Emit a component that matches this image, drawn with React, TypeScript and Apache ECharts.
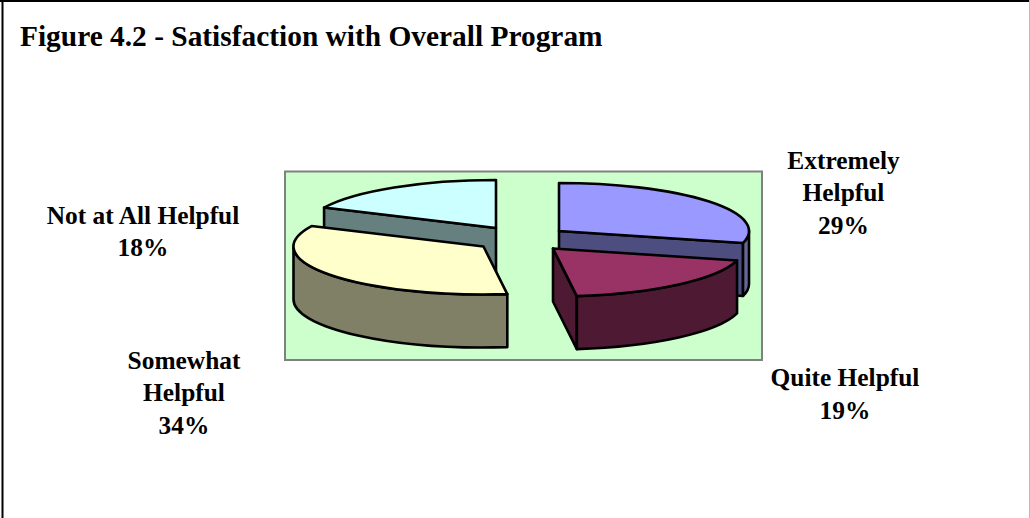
import React, { useEffect, useRef } from "react";
import * as echarts from "echarts";

const categories = ["Extremely Helpful", "Quite Helpful", "Somewhat Helpful", "Not at All Helpful"];
const shares = [29, 19, 34, 18];
const labelNames = ["Extremely\nHelpful", "Quite Helpful", "Somewhat\nHelpful", "Not at All Helpful"];

const topColors = ["#9999ff", "#993366", "#ffffcc", "#ccffff"];
const wallColors = ["#4d4d80", "#4d1933", "#808066", "#668080"];
const rimColors = ["#666699", "#4d1933", "#808066", "#668080"];

// Centre of each exploded slice's top face, and where its label sits.
const sliceCentres = [[559, 231], [553, 248.5], [483.5, 246.5], [496, 228]];
const labelCentres = [[843.5, 192], [845, 393.5], [184, 392], [143, 231]];
// Painted far to near so the front slices overlap the back ones.
const paintOrder = [3, 0, 2, 1];

const RX = 190;
const RY = 48;
const DEPTH = 53;
const FONT = "'Liberation Serif', 'Times New Roman', serif";

function App() {
  const ref = useRef<HTMLDivElement>(null);
  useEffect(() => {
    document.body.style.margin = "0";
    const chart = echarts.init(ref.current!, undefined, { renderer: "svg" });
    const total = shares.reduce((a, b) => a + b, 0);
    const angleOf = (v: number) => echarts.number.linearMap(v, [0, total], [0, Math.PI * 2], true);
    const starts = shares.map((_, i) => shares.slice(0, i).reduce((a, b) => a + b, 0));

    const renderSlice = (_params: any, api: any) => {
      const i = api.value(0) as number;
      const share = api.value(1) as number;
      const a0 = angleOf(starts[i]);
      const a1 = angleOf(starts[i] + share);
      const [cx, cy] = sliceCentres[i];
      const px = (a: number, dy = 0) => [cx + RX * Math.sin(a), cy - RY * Math.cos(a) + dy];
      const arcTo = (a: number, dy: number, sweep: number, large: number) => {
        const [x, y] = px(a, dy);
        return `A ${RX} ${RY} 0 ${large} ${sweep} ${x} ${y}`;
      };
      const lineStyle = { stroke: "#000", lineWidth: 2.6, lineJoin: "round" };
      const children: any[] = [];
      const face = (d: string, fill: string) =>
        children.push({ type: "path", shape: { pathData: d }, style: { fill, ...lineStyle } });

      // Flat radial wall hanging from one straight edge of the slice.
      const radialWall = (a: number, fill: string) => {
        const [ex, ey] = px(a);
        face(`M ${cx} ${cy} L ${ex} ${ey} L ${ex} ${ey + DEPTH} L ${cx} ${cy + DEPTH} Z`, fill);
      };
      // Curved outer wall, only where the rim faces forwards (90deg to 270deg).
      const rimWall = (fill: string) => {
        const from = Math.max(a0, Math.PI / 2);
        const to = Math.min(a1, (Math.PI * 3) / 2);
        if (to <= from) return;
        const [sx, sy] = px(from);
        const [bx, by] = px(to, DEPTH);
        face(
          `M ${sx} ${sy} ${arcTo(to, 0, 1, 0)} L ${bx} ${by} ${arcTo(from, DEPTH, 0, 0)} Z`,
          fill
        );
      };

      // Which straight edge shows depends on which way the slice opens.
      if (a0 >= Math.PI * 1.5) radialWall(a0, wallColors[i]);
      else if (a0 < Math.PI / 2) radialWall(a1, wallColors[i]);
      else if (a0 < Math.PI && a1 < Math.PI) radialWall(a1, wallColors[i]);
      rimWall(rimColors[i]);

      const [tx, ty] = px(a0);
      const large = a1 - a0 > Math.PI ? 1 : 0;
      face(`M ${cx} ${cy} L ${tx} ${ty} ${arcTo(a1, 0, 1, large)} Z`, topColors[i]);

      children.push({
        type: "text",
        x: labelCentres[i][0],
        y: labelCentres[i][1],
        style: {
          text: `${labelNames[i]}\n${share}%`,
          fill: "#000",
          font: `bold 25.4px ${FONT}`,
          lineHeight: 32.5,
          align: "center",
          verticalAlign: "middle",
        },
      });
      return { type: "group", children };
    };

    chart.setOption({
      animation: false,
      title: {
        text: "Figure 4.2 - Satisfaction with Overall Program",
        left: 20,
        top: 21,
        padding: 0,
        textStyle: { fontFamily: FONT, fontWeight: "bold", fontSize: 29.4, color: "#000" },
      },
      graphic: [
        { type: "line", shape: { x1: 0, y1: 1, x2: 1030, y2: 1 }, style: { stroke: "#000", lineWidth: 2 }, silent: true },
        { type: "line", shape: { x1: 2.5, y1: 0, x2: 2.5, y2: 518 }, style: { stroke: "#000", lineWidth: 2 }, silent: true },
        { type: "line", shape: { x1: 1029.5, y1: 0, x2: 1029.5, y2: 518 }, style: { stroke: "#bbb", lineWidth: 1 }, silent: true },
        { type: "rect", z: -1, shape: { x: 285, y: 171.5, width: 477, height: 188.5 }, style: { fill: "#ccffcc", stroke: "#808080", lineWidth: 2 }, silent: true },
      ],
      series: [
        {
          type: "custom",
          coordinateSystem: "none",
          silent: true,
          renderItem: renderSlice,
          data: paintOrder.map((i) => ({ name: categories[i], value: [i, shares[i]] })),
        },
      ],
    });
    return () => chart.dispose();
  }, []);
  return <div ref={ref} style={{ width: 1030, height: 518 }} />;
}

export default App;
